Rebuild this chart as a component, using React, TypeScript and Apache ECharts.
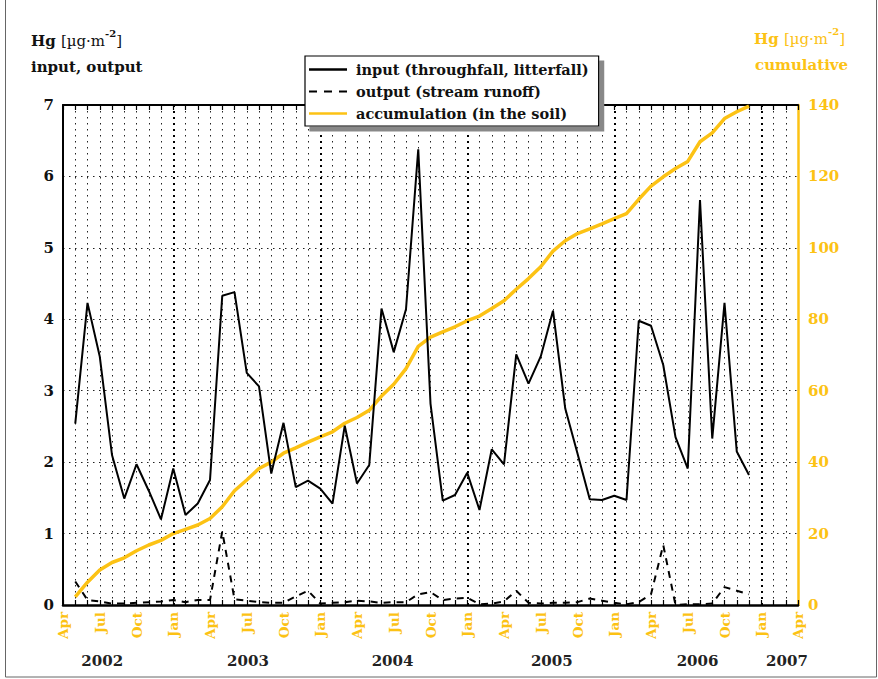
import React, { useEffect, useRef } from "react";
import * as echarts from "echarts";

// Months counted from April 2002 (0) to April 2007 (60); data are monthly from May 2002
const monthNames = ["Apr", "May", "Jun", "Jul", "Aug", "Sep", "Oct", "Nov", "Dec", "Jan", "Feb", "Mar"];
const firstDataMonth = 1;
const janMonths = [9, 21, 33, 45, 57];
const yearLabels = ["2002", "2003", "2004", "2005", "2006", "2007"];
const yearLabelMonths = [3.2, 15.1, 26.9, 39.9, 51.8, 59.1];

const inputHg = [
  2.54, 4.23, 3.48, 2.1, 1.49, 1.97, 1.6, 1.2, 1.91, 1.26, 1.42, 1.75,
  4.33, 4.38, 3.25, 3.06, 1.84, 2.55, 1.65, 1.74, 1.63, 1.42, 2.51, 1.7,
  1.96, 4.15, 3.54, 4.14, 6.38, 2.82, 1.46, 1.54, 1.85, 1.33, 2.18, 1.97,
  3.51, 3.1, 3.48, 4.12, 2.75, 2.12, 1.48, 1.47, 1.53, 1.47, 3.98, 3.91,
  3.36, 2.35, 1.91, 5.67, 2.33, 4.23, 2.15, 1.82,
];

const outputHg = [
  0.33, 0.07, 0.05, 0.02, 0.02, 0.03, 0.04, 0.05, 0.07, 0.04, 0.07, 0.07,
  1.03, 0.08, 0.06, 0.04, 0.03, 0.03, 0.12, 0.2, 0.02, 0.03, 0.04, 0.06,
  0.05, 0.03, 0.04, 0.04, 0.15, 0.18, 0.07, 0.09, 0.1, 0.01, 0.02, 0.05,
  0.2, 0.03, 0.02, 0.03, 0.03, 0.04, 0.09, 0.06, 0.03, 0.01, 0.04, 0.15,
  0.84, 0.0, 0.01, 0.01, 0.02, 0.25, 0.2, 0.15,
];

const accumulationHg = [
  2.3, 6.4, 9.8, 11.9, 13.2, 15.2, 16.8, 18.1, 20.0, 21.2, 22.4, 24.2,
  27.5, 32.0, 35.0, 38.2, 40.0, 42.5, 44.0, 45.6, 47.1, 48.5, 50.9, 52.5,
  54.5, 58.5, 61.8, 66.2, 72.4, 75.0, 76.5, 77.9, 79.6, 80.9, 83.0, 85.2,
  88.4, 91.4, 94.7, 99.1, 102.0, 104.0, 105.3, 106.7, 108.2, 109.6, 113.6, 117.3,
  119.9, 122.2, 124.2, 129.7, 132.2, 136.2, 138.1, 139.7,
];

const leftTicks = [0, 7, 1];
const rightTicks = [0, 140, 20];

const YELLOW = "#FCC214";
const FONT = '"DejaVu Serif", "Liberation Serif", serif';

const toPoints = (arr: number[]) => arr.map((v, i) => [firstDataMonth + i, v]);

const titleRich = (color: string) => ({
  b: { fontFamily: FONT, fontWeight: "bold", fontSize: 15, fill: color, lineHeight: 20, verticalAlign: "bottom" },
  n: { fontFamily: FONT, fontSize: 15, fill: color, lineHeight: 20, verticalAlign: "bottom" },
  s: { fontFamily: FONT, fontWeight: "bold", fontSize: 10, fill: color, lineHeight: 10, verticalAlign: "top" },
});

export default function App() {
  const ref = useRef<HTMLDivElement>(null);
  useEffect(() => {
    if (!ref.current) return;
    const chart = echarts.init(ref.current, null, { renderer: "svg" });
    const dotted = { type: [1.5, 4.5] as any, color: "#222", width: 1 };
    chart.setOption({
      animation: false,
      backgroundColor: "#fff",
      grid: { left: 63, right: 80, top: 105, bottom: 74 },
      legend: {
        orient: "vertical",
        left: 305,
        top: 56,
        z: 20,
        padding: [6, 10, 5, 4],
        itemGap: 7,
        itemWidth: 38,
        itemHeight: 2.5,
        backgroundColor: "#fff",
        borderColor: "#000",
        borderWidth: 1.2,
        shadowColor: "#888",
        shadowOffsetX: 5,
        shadowOffsetY: 5,
        shadowBlur: 1,
        textStyle: { fontFamily: FONT, fontWeight: "bold", fontSize: 14.5, color: "#111", padding: [0, 0, 0, 4] },
        data: [
          { name: "input (throughfall, litterfall)", icon: "rect" },
          { name: "output (stream runoff)", icon: "path://M0,0h8v2h-8z M15,0h8v2h-8z M30,0h8v2h-8z" },
          { name: "accumulation (in the soil)", icon: "rect" },
        ],
      },
      xAxis: [
        {
          type: "value",
          min: 0,
          max: 60,
          interval: 1,
          position: "bottom",
          axisLine: { show: true, onZero: false, lineStyle: { color: "#000", width: 2.5 } },
          axisTick: { show: true, inside: true, length: 5, lineStyle: { color: "#000", width: 1.2 } },
          axisLabel: {
            rotate: 90,
            margin: 7,
            color: YELLOW,
            fontFamily: FONT,
            fontWeight: "bold",
            fontSize: 13.5,
            showMinLabel: true,
            showMaxLabel: true,
            formatter: (v: number) => (Math.round(v) % 3 === 0 ? monthNames[Math.round(v) % 12] : ""),
          },
          splitLine: { show: true, lineStyle: dotted },
        },
        {
          type: "value",
          min: 0,
          max: 60,
          position: "bottom",
          offset: 40,
          axisLine: { show: false },
          axisTick: { show: false },
          splitLine: { show: false },
          axisLabel: {
            customValues: yearLabelMonths,
            margin: 8,
            color: "#222",
            fontFamily: FONT,
            fontWeight: "bold",
            fontSize: 15,
            showMinLabel: true,
            showMaxLabel: true,
            formatter: (v: number) => {
              const k = yearLabelMonths.findIndex((m) => Math.abs(m - v) < 0.01);
              return k >= 0 ? yearLabels[k] : "";
            },
          },
        },
        {
          type: "value",
          min: 0,
          max: 60,
          interval: 1,
          position: "top",
          axisLine: { show: true, onZero: false, lineStyle: { color: "#000", width: 2 } },
          axisTick: { show: true, inside: true, length: 5, lineStyle: { color: "#000", width: 1.2 } },
          axisLabel: { show: false },
          splitLine: { show: false },
        },
      ],
      yAxis: [
        {
          type: "value",
          min: leftTicks[0],
          max: leftTicks[1],
          interval: leftTicks[2],
          position: "left",
          axisLine: { show: true, onZero: false, lineStyle: { color: "#000", width: 2 } },
          axisTick: { show: false },
          axisLabel: { color: "#111", fontFamily: FONT, fontWeight: "bold", fontSize: 15, margin: 9 },
          splitLine: { show: true, lineStyle: dotted },
        },
        {
          type: "value",
          min: rightTicks[0],
          max: rightTicks[1],
          interval: rightTicks[2],
          position: "right",
          axisLine: { show: true, onZero: false, lineStyle: { color: YELLOW, width: 2.5 } },
          axisTick: { show: false },
          axisLabel: { color: YELLOW, fontFamily: FONT, fontWeight: "bold", fontSize: 15, margin: 10 },
          splitLine: { show: false },
        },
      ],
      series: [
        {
          name: "input (throughfall, litterfall)",
          type: "line",
          xAxisIndex: 0,
          yAxisIndex: 0,
          data: toPoints(inputHg),
          symbol: "none",
          z: 4,
          lineStyle: { color: "#000", width: 2 },
          itemStyle: { color: "#000" },
          markLine: {
            silent: true,
            symbol: "none",
            label: { show: false },
            lineStyle: { type: [2, 4] as any, color: "#000", width: 2 },
            data: janMonths.map((m) => ({ xAxis: m })),
          },
        },
        {
          name: "output (stream runoff)",
          type: "line",
          xAxisIndex: 0,
          yAxisIndex: 0,
          data: toPoints(outputHg),
          symbol: "none",
          z: 4,
          lineStyle: { color: "#000", width: 2, type: [7, 6] as any },
          itemStyle: { color: "#000" },
        },
        {
          name: "accumulation (in the soil)",
          type: "line",
          xAxisIndex: 0,
          yAxisIndex: 1,
          data: toPoints(accumulationHg),
          symbol: "none",
          z: 3,
          lineStyle: { color: YELLOW, width: 3.5 },
          itemStyle: { color: YELLOW },
        },
      ],
      graphic: [
        {
          type: "rect",
          shape: { x: 5.5, y: -2, width: 871, height: 679 },
          style: { fill: "none", stroke: "#666", lineWidth: 1 },
          silent: true,
        },
        {
          type: "text",
          left: 31,
          top: 28,
          style: { text: "{b|Hg }{n|[µg·m}{s|-2}{n|]}", rich: titleRich("#111") },
        },
        {
          type: "text",
          left: 31,
          top: 59,
          style: { text: "input, output", fontFamily: FONT, fontWeight: "bold", fontSize: 15, fill: "#111" },
        },
        {
          type: "text",
          left: 754,
          top: 26,
          style: { text: "{b|Hg }{n|[µg·m}{s|-2}{n|]}", rich: titleRich(YELLOW) },
        },
        {
          type: "text",
          left: 755,
          top: 57,
          style: { text: "cumulative", fontFamily: FONT, fontWeight: "bold", fontSize: 15, fill: YELLOW },
        },
      ],
    });
    return () => chart.dispose();
  }, []);
  return (
    <div
      ref={ref}
      style={{ position: "absolute", left: 0, top: 0, width: 878, height: 679 }}
    />
  );
}
